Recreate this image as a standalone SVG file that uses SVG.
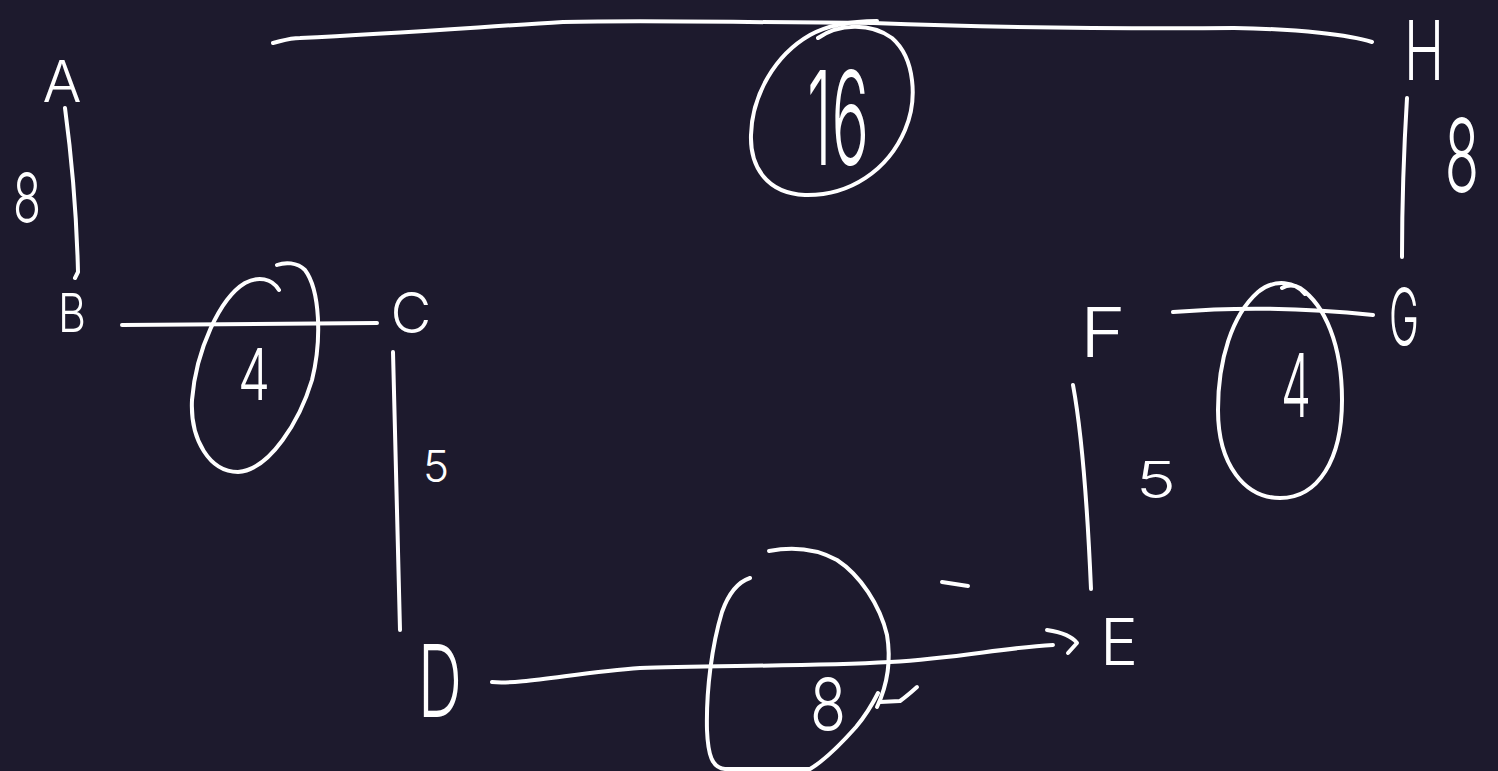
<svg xmlns="http://www.w3.org/2000/svg" width="1498" height="771" viewBox="0 0 1498 771">
<style>
.bg{fill:#1d1a2d}
.ln{fill:none;stroke:#ffffff;stroke-width:4;stroke-linecap:round;stroke-linejoin:round}
.t{fill:#ffffff;font-family:Inter,"Liberation Sans",sans-serif;font-weight:300;text-anchor:middle}
</style>
<rect class="bg" x="0" y="0" width="1498" height="771"/>
<g id="connectors">
<path class="ln" d="M65,108 Q76,190 78,272 L75,278"/>
<path class="ln" d="M122,325 L377,323"/>
<path class="ln" d="M393,352 Q397,490 400,630"/>
<path class="ln" d="M492,682 C520,685 580,672 640,668 C700,665 800,667 890,662 C960,658 1000,648 1053,645"/>
<path class="ln" d="M1047,630 C1060,632 1072,636 1077,643 L1068,653"/>
<path class="ln" d="M1073,385 Q1085,450 1091,589"/>
<path class="ln" d="M1173,312 Q1270,304 1373,315"/>
<path class="ln" d="M1407,98 Q1402,180 1402,257"/>
<path class="ln" d="M273,43 C285,40 290,38 300,38 C400,33 480,27 563,22 C650,20 700,22 873,23 C950,26 1050,29 1234,28 C1300,29 1350,35 1372,42"/>
</g>
<g id="highlights">
<path class="ln" d="M279,290 C272,278 258,276 245,283 C220,298 196,350 192,400 C190,440 210,472 238,472 C270,470 300,420 312,380 C322,340 320,290 305,270 C297,262 285,262 277,265"/>
<path class="ln" d="M1305,294 C1296,282 1275,278 1258,292 C1232,315 1218,360 1218,410 C1218,465 1245,498 1280,498 C1318,498 1342,460 1342,400 C1342,345 1325,305 1300,288 C1293,284 1287,285 1282,288"/>
<path class="ln" d="M818,38 C838,24 870,22 892,38 C915,58 918,100 905,130 C888,170 850,196 805,195 C765,193 750,165 751,135 C752,95 775,55 810,35 C830,24 855,21 877,21"/>
<path class="ln" d="M769,551 C790,547 815,548 837,560 C860,575 880,605 887,635 C892,665 885,690 877,707"/>
<path class="ln" d="M750,578 C738,582 728,595 722,612 C712,645 706,690 707,730 C708,755 712,768 725,769 L810,769 C825,760 840,745 856,727 C866,715 872,705 878,693"/>
<path class="ln" d="M880,702 L900,701 Q907,696 917,687"/>
<path class="ln" d="M942,582 L968,586"/>
</g>
<g id="weights">
<text class="t" x="27" y="223" font-size="70" textLength="28" lengthAdjust="spacingAndGlyphs">8</text>
<text class="t" x="254" y="400" font-size="72" textLength="32" lengthAdjust="spacingAndGlyphs">4</text>
<text class="t" x="436" y="482" font-size="44">5</text>
<text class="t" x="838" y="165" font-size="130" textLength="62" lengthAdjust="spacingAndGlyphs">16</text>
<text class="t" x="828" y="730" font-size="72" textLength="36" lengthAdjust="spacingAndGlyphs">8</text>
<text class="t" x="1156" y="498" font-size="50" textLength="40" lengthAdjust="spacingAndGlyphs">5</text>
<text class="t" x="1296" y="417" font-size="88" textLength="30" lengthAdjust="spacingAndGlyphs">4</text>
<text class="t" transform="translate(1462,192) scale(0.55,1)" x="0" y="0" font-size="102">8</text>
</g>
<g id="node-A"><text class="t" x="62" y="102" font-size="58">A</text></g>
<g id="node-B"><text class="t" x="72" y="332" font-size="54" textLength="28" lengthAdjust="spacingAndGlyphs">B</text></g>
<g id="node-C"><text class="t" x="411" y="333" font-size="56">C</text></g>
<g id="node-D"><text class="t" x="440" y="717" font-size="100" textLength="44" lengthAdjust="spacingAndGlyphs">D</text></g>
<g id="node-E"><text class="t" x="1119" y="665" font-size="64">E</text></g>
<g id="node-F"><text class="t" x="1103" y="357" font-size="68" textLength="46" lengthAdjust="spacingAndGlyphs">F</text></g>
<g id="node-G"><text class="t" x="1404" y="345" font-size="78" textLength="30" lengthAdjust="spacingAndGlyphs">G</text></g>
<g id="node-H"><text class="t" transform="translate(1424,80) scale(0.66,1)" x="0" y="0" font-size="82">H</text></g>
</svg>
